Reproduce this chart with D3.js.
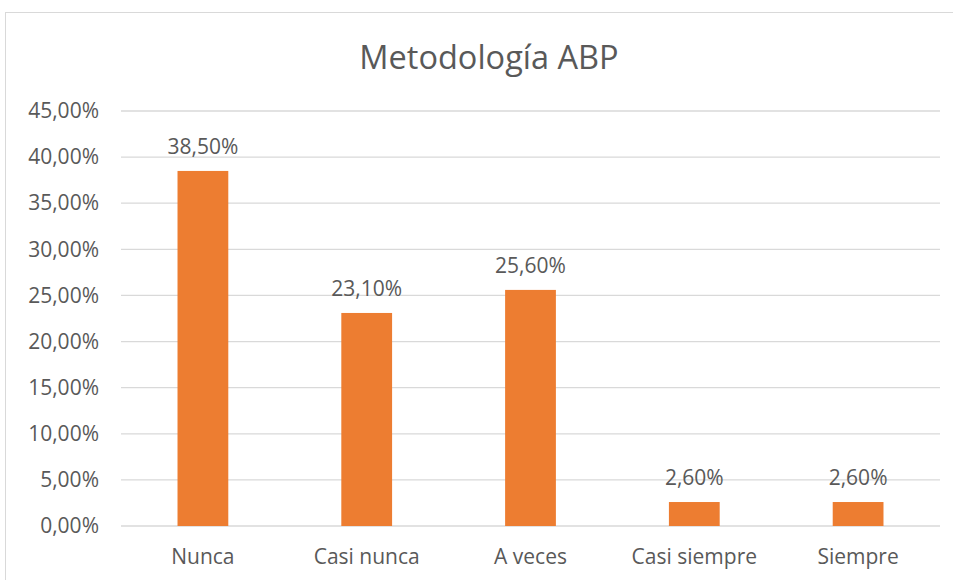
<!DOCTYPE html>
<html><head><meta charset="utf-8">
<script src="https://cdn.jsdelivr.net/npm/d3@7"></script>
<style>body{margin:0;background:#fff}svg{display:block}text{font-family:"Open Sans",sans-serif;fill:#595959}</style>
</head><body><svg id="c" width="953" height="580"></svg>
<script>
const categories = ["Nunca","Casi nunca","A veces","Casi siempre","Siempre"];
const values = [38.5, 23.1, 25.6, 2.6, 2.6];
const yTicks = [0,5,10,15,20,25,30,35,40,45];
const title = "Metodología ABP";

const svg = d3.select("#c");
svg.append("rect").attr("x",5.5).attr("y",12.5).attr("width",960).attr("height",600)
  .attr("fill","#fff").attr("stroke","#d9d9d9");

const x = d3.scaleBand().domain(categories).range([121,940]).paddingInner(0.69).paddingOuter(0.345);
const y = d3.scaleLinear().domain([0,45]).range([526,111]);
const fmt = v => d3.format(".2f")(v).replace(".",",") + "%";

svg.append("g").selectAll("line").data(yTicks).join("line")
  .attr("x1",121).attr("x2",940).attr("y1",d=>y(d)).attr("y2",d=>y(d))
  .attr("stroke","#d9d9d9").attr("stroke-width",1.3);

const yAxis = svg.append("g").attr("transform","translate(121,0)")
  .call(d3.axisLeft(y).tickValues(yTicks).tickFormat(fmt).tickSize(0).tickPadding(22));
yAxis.select(".domain").remove();
yAxis.selectAll("text").style("font-size","21px").attr("fill","#595959").style("font-family","'Open Sans',sans-serif");

svg.append("g").selectAll("rect").data(values).join("rect")
  .attr("x",(d,i)=>x(categories[i])).attr("width",x.bandwidth())
  .attr("y",d=>y(d)).attr("height",d=>y(0)-y(d)).attr("fill","#ED7D31");

svg.append("g").selectAll("text").data(values).join("text")
  .attr("x",(d,i)=>x(categories[i])+x.bandwidth()/2).attr("y",d=>y(d)-17)
  .attr("text-anchor","middle").style("font-size","21px").text(d=>fmt(d));

const xAxis = svg.append("g").attr("transform","translate(0,526)")
  .call(d3.axisBottom(x).tickSize(0).tickPadding(23));
xAxis.select(".domain").remove();
xAxis.selectAll("text").style("font-size","21px").attr("fill","#595959").style("font-family","'Open Sans',sans-serif");

svg.append("text").attr("x",489).attr("y",69).attr("text-anchor","middle")
  .style("font-size","32.5px").text(title);
</script></body></html>
